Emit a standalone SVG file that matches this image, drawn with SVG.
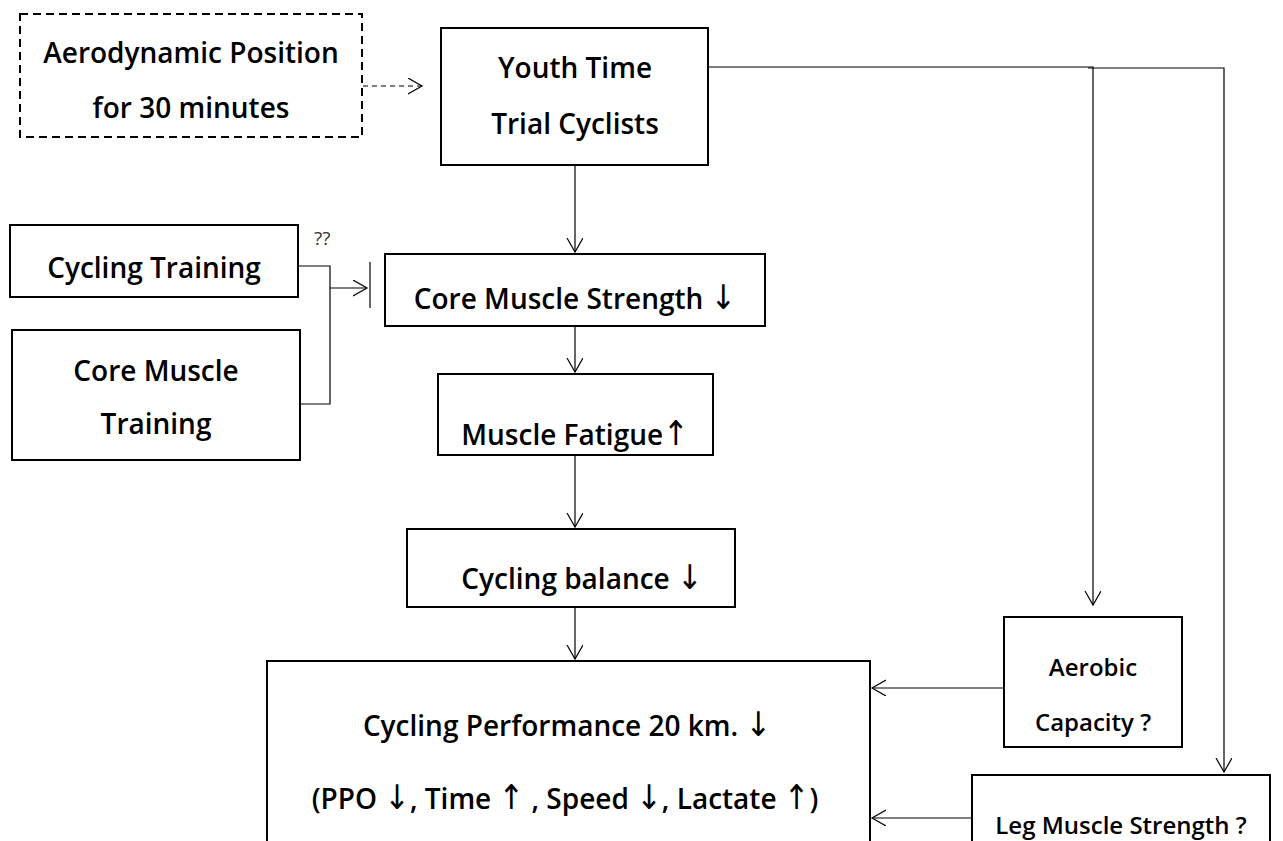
<svg xmlns="http://www.w3.org/2000/svg" width="1283" height="841" viewBox="0 0 1283 841">
<defs>
<marker id="open" markerWidth="16" markerHeight="18" refX="14" refY="8" orient="auto" markerUnits="userSpaceOnUse">
<path d="M0,0 L14,8 L0,16" fill="none" stroke="#000" stroke-width="1.2"/>
</marker>
</defs>
<style>
.box{fill:#fff;stroke:#000;stroke-width:2}
.dash{fill:#fff;stroke:#000;stroke-width:2;stroke-dasharray:8,5}
.t{font-family:"Open Sans","Noto Sans",sans-serif;font-weight:600;font-size:28px;fill:#000;text-anchor:middle}
.s{font-family:"Open Sans","Noto Sans",sans-serif;font-weight:600;font-size:24px;fill:#000;text-anchor:middle}
.q{font-family:"Open Sans","Noto Sans",sans-serif;font-size:19px;fill:#333}
.a{font-family:"DejaVu Sans Condensed","DejaVu Sans",sans-serif;font-weight:400;font-size:34px;fill:#000}
.c{fill:none;stroke:#000;stroke-width:1.2}
</style>
<rect width="1283" height="841" fill="#fff"/>
<g id="connectors">
<path class="c" d="M363,86 H422" stroke-dasharray="5,4" marker-end="url(#open)"/>
<path class="c" d="M708,67 H1093 V605" marker-end="url(#open)"/>
<path class="c" d="M1088,68 H1224 V772" marker-end="url(#open)"/>
<path class="c" d="M575,165 V252" marker-end="url(#open)"/>
<path class="c" d="M575,326 V372" marker-end="url(#open)"/>
<path class="c" d="M575,455 V527" marker-end="url(#open)"/>
<path class="c" d="M575,607 V659" marker-end="url(#open)"/>
<path class="c" d="M1004,688 H872" marker-end="url(#open)"/>
<path class="c" d="M972,818 H872" marker-end="url(#open)"/>
<path class="c" d="M298,266 H330 V404 H301"/>
<path class="c" d="M330,288 H367" marker-end="url(#open)"/>
<path class="c" d="M370,262 V308"/>
<text class="q" x="314" y="245">??</text>
</g>
<g id="aero">
<rect class="dash" x="20" y="14" width="342" height="123"/>
<text class="t" x="191" y="63">Aerodynamic Position</text>
<text class="t" x="191" y="118">for 30 minutes</text>
</g>
<g id="youth">
<rect class="box" x="441" y="28" width="267" height="137"/>
<text class="t" x="575" y="78">Youth Time</text>
<text class="t" x="575" y="134">Trial Cyclists</text>
</g>
<g id="cyctrain">
<rect class="box" x="10" y="225" width="288" height="72"/>
<text class="t" x="154" y="278">Cycling Training</text>
</g>
<g id="coretrain">
<rect class="box" x="12" y="330" width="288" height="130"/>
<text class="t" x="156" y="381">Core Muscle</text>
<text class="t" x="156" y="434">Training</text>
</g>
<g id="corestr">
<rect class="box" x="385" y="254" width="380" height="72"/>
<text class="t" x="575" y="309">Core Muscle Strength <tspan class="a">↓</tspan></text>
</g>
<g id="fatigue">
<rect class="box" x="438" y="374" width="275" height="81"/>
<text class="t" x="575" y="445">Muscle Fatigue<tspan class="a">↑</tspan></text>
</g>
<g id="balance">
<rect class="box" x="407" y="529" width="328" height="78"/>
<text class="t" x="582" y="589">Cycling balance  <tspan class="a">↓</tspan></text>
</g>
<g id="perf">
<rect class="box" x="267" y="661" width="603" height="190"/>
<text class="t" x="567" y="736">Cycling Performance 20 km. <tspan class="a">↓</tspan></text>
<text class="t" x="565" y="809">(PPO <tspan class="a">↓</tspan>, Time <tspan class="a">↑</tspan> , Speed <tspan class="a">↓</tspan>, Lactate <tspan class="a">↑</tspan>)</text>
</g>
<g id="aerobic">
<rect class="box" x="1004" y="617" width="178" height="130"/>
<text class="s" x="1093" y="676">Aerobic</text>
<text class="s" x="1093" y="731">Capacity ?</text>
</g>
<g id="leg">
<rect class="box" x="972" y="775" width="298" height="80"/>
<text class="s" x="1121" y="834">Leg Muscle Strength ?</text>
</g>
</svg>
